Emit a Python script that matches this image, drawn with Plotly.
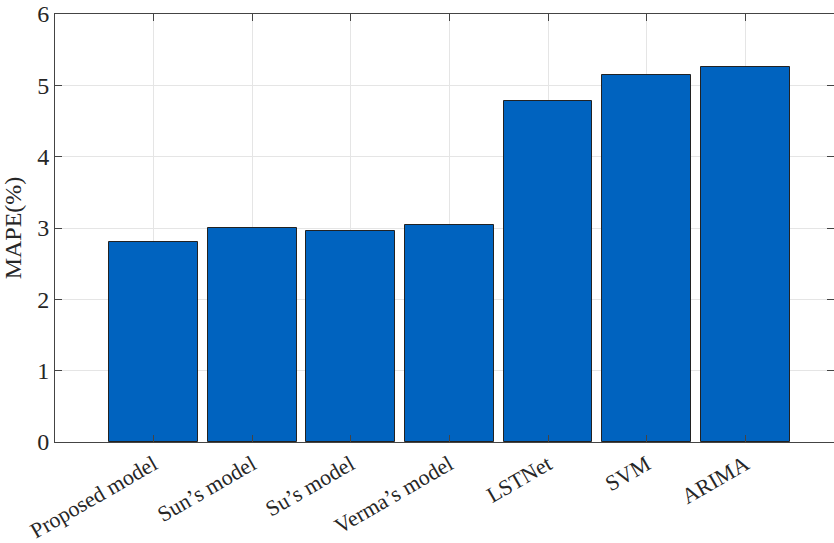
import plotly.graph_objects as go

# MAPE of each forecasting model
models = ["Proposed model", "Sun\u2019s model", "Su\u2019s model", "Verma\u2019s model",
          "LSTNet", "SVM", "ARIMA"]
mape = [2.80, 3.00, 2.96, 3.04, 4.78, 5.14, 5.26]
positions = [1, 2, 3, 4, 5, 6, 7]
y_ticks = [0, 1, 2, 3, 4, 5, 6]

font_family = "Liberation Serif, Times New Roman, serif"
axis_color = "#444444"
grid_color = "#e5e5e5"
text_color = "#262626"

fig = go.Figure(
    go.Bar(
        x=positions,
        y=mape,
        width=0.9,
        marker=dict(color="#0063BF", line=dict(color="#222222", width=1)),
        hoverinfo="x+y",
    )
)

fig.update_layout(
    width=834,
    height=543,
    margin=dict(l=55, r=0, t=14, b=101),
    paper_bgcolor="white",
    plot_bgcolor="white",
    font=dict(family=font_family, size=22, color=text_color),
    showlegend=False,
    bargap=0,
)

fig.update_xaxes(
    range=[0, 7.9],
    tickmode="array",
    tickvals=positions,
    ticktext=models,
    tickangle=-30,
    ticks="inside",
    ticklen=7,
    tickcolor=axis_color,
    showline=True,
    linecolor=axis_color,
    linewidth=1,
    mirror="ticks",
    showgrid=True,
    gridcolor=grid_color,
    gridwidth=1,
    zeroline=False,
    tickfont=dict(family=font_family, size=22, color=text_color),
)

fig.update_yaxes(
    range=[0, 6],
    tickmode="array",
    tickvals=y_ticks,
    ticks="inside",
    ticklen=7,
    tickcolor=axis_color,
    showline=True,
    linecolor=axis_color,
    linewidth=1,
    mirror="ticks",
    showgrid=True,
    gridcolor=grid_color,
    gridwidth=1,
    zeroline=False,
    tickfont=dict(family=font_family, size=24, color=text_color),
    title=dict(text="MAPE(%)", font=dict(family=font_family, size=24, color=text_color),
               standoff=12),
)

fig.write_html("out.html")
